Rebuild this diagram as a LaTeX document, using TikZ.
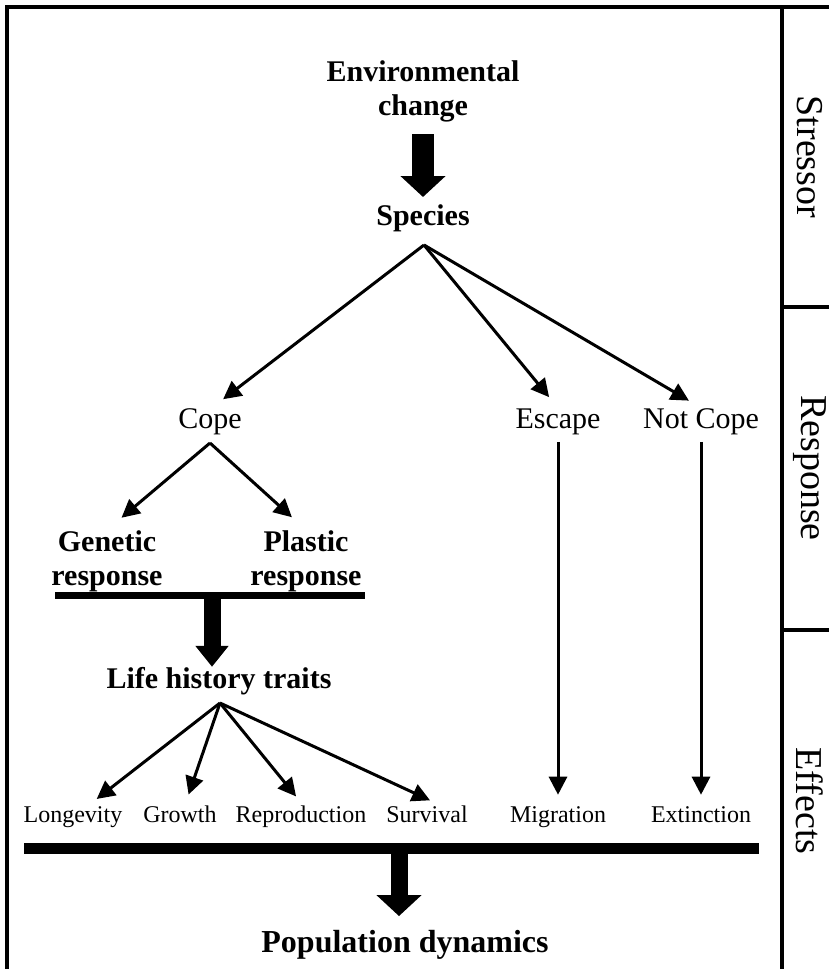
\documentclass[tikz,border=0pt]{standalone}
\usepackage{fontspec}
\setmainfont{Liberation Serif}
\usetikzlibrary{arrows.meta}

\begin{document}
\begin{tikzpicture}[x=0.5pt,y=-0.5pt,
  plainlbl/.style={inner sep=0pt,anchor=base,font=\fontsize{15}{17}\selectfont},
  boldlbl/.style={inner sep=0pt,align=center,font=\fontsize{15}{17}\selectfont\bfseries},
  traitlbl/.style={inner sep=0pt,anchor=base,font=\fontsize{12}{14}\selectfont},
  sidelbl/.style={inner sep=0pt,rotate=-90,font=\fontsize{19}{22}\selectfont},
  arr/.style={line width=1.5pt,-{Triangle[length=9pt,width=9pt]}},
  fat/.style={line width=#1,-{Triangle[length=10.5pt,width=22pt]}}]
  \useasboundingbox (0,0) rectangle (829,969);

  % frame and side columns
  \draw[line width=2pt] (7,969) -- (7,7) -- (829,7);
  \draw[line width=1.6pt] (782,7) -- (782,969);
  \draw[line width=1.6pt] (782,307) -- (829,307);
  \draw[line width=1.6pt] (782,630) -- (829,630);
  \node[sidelbl] (stressor) at (810,157) {Stressor};
  \node[sidelbl] (response) at (810,468) {Response};
  \node[sidelbl] (effects) at (810,801) {Effects};

  \node[boldlbl] (env) at (423,91) {Environmental\\change};
  \node[boldlbl] (species) at (423,218) {Species};
  \draw[fat=11pt,shorten <=6pt,shorten >=3.5pt] (env.south) -- (species.north);

  \coordinate (spfork) at (424,245);
  \node[plainlbl] (cope) at (210,428) {Cope};
  \node[plainlbl] (escape) at (558,428) {Escape};
  \node[plainlbl] (notcope) at (701,428) {Not Cope};
  \draw[arr,shorten >=7pt] (spfork) -- ([xshift=1pt]cope.north);
  \draw[arr,shorten >=7pt] (spfork) -- (escape.north);
  \draw[arr,shorten >=7pt] (spfork) -- (notcope.north);

  \coordinate (copefork) at (210,443);
  \node[boldlbl] (genetic) at (107,561) {Genetic\\response};
  \node[boldlbl] (plastic) at (306,561) {Plastic\\response};
  \draw[arr,shorten >=9.5pt] (copefork) -- (genetic.north);
  \draw[arr,shorten >=9.5pt] (copefork) -- (plastic.north);

  \coordinate (gbarL) at (55,595);
  \coordinate (gbarR) at (365,595);
  \coordinate (gbarM) at (212,595);
  \draw[line width=3.5pt] (gbarL) -- (gbarR);
  \node[boldlbl] (life) at (219,681) {Life history traits};
  \draw[fat=8.5pt,-{Triangle[length=10.5pt,width=16pt]}] (gbarM) -- (gbarM |- life.north);

  \coordinate (lifefork) at (220,703);
  \node[traitlbl] (longevity) at (73,822) {Longevity};
  \node[traitlbl] (growth) at (180,822) {Growth};
  \node[traitlbl] (repro) at (301,822) {Reproduction};
  \node[traitlbl] (survival) at (427,822) {Survival};
  \node[traitlbl] (migration) at (558,822) {Migration};
  \node[traitlbl] (extinction) at (701,822) {Extinction};
  \draw[arr,shorten >=5.5pt] (lifefork) -- ([xshift=7.5pt]longevity.north);
  \draw[arr,shorten >=5.5pt] (lifefork) -- ([xshift=2.5pt]growth.north);
  \draw[arr,shorten >=5.5pt] (lifefork) -- ([xshift=1pt]repro.north);
  \draw[arr,shorten >=5.5pt] (lifefork) -- ([xshift=6.5pt]survival.north);
  \draw[arr,shorten <=3.5pt,shorten >=5.5pt] (escape.south) -- (migration.north);
  \draw[arr,shorten <=3.5pt,shorten >=5.5pt] (notcope.south) -- (extinction.north);

  \coordinate (pbarL) at (24,848);
  \coordinate (pbarR) at (759,848);
  \coordinate (pbarM) at (399,848);
  \draw[line width=5.5pt] (pbarL) -- (pbarR);
  \node[boldlbl,font=\fontsize{16}{18}\selectfont\bfseries] (popdyn) at (405,945) {Population dynamics};
  \draw[fat=8.5pt,shorten >=7pt] (pbarM) -- (pbarM |- popdyn.north);
\end{tikzpicture}
\end{document}
